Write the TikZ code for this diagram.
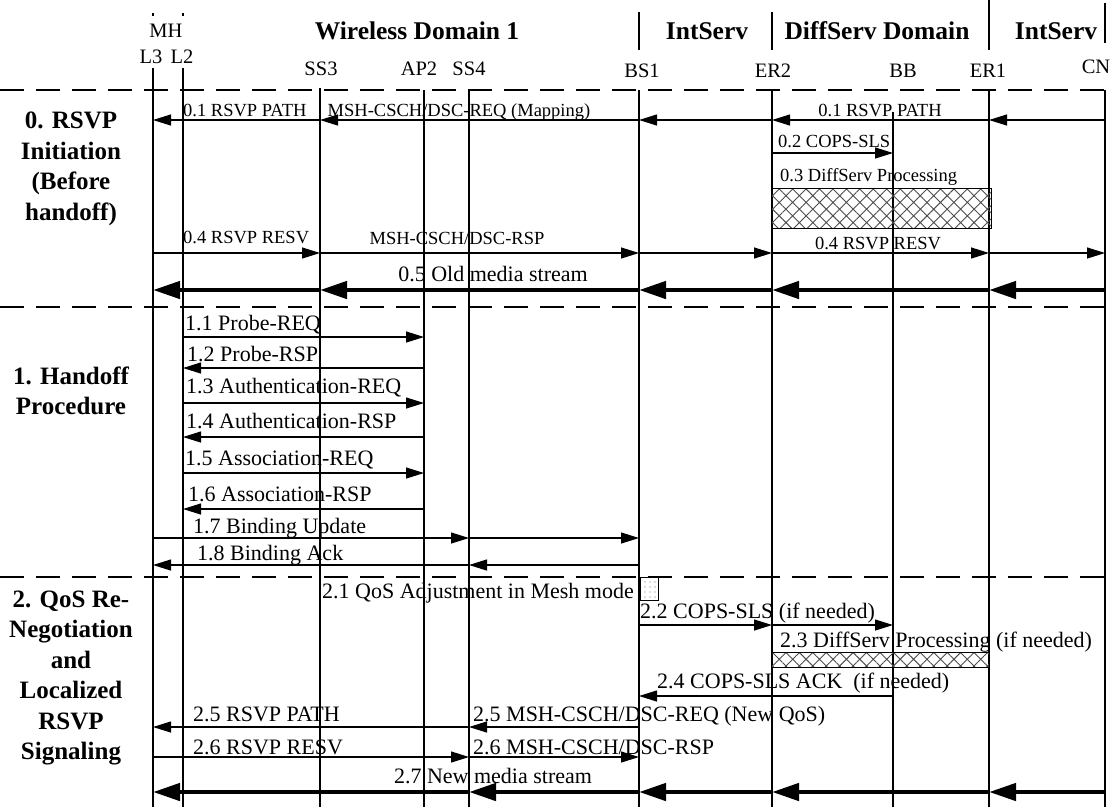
\documentclass[tikz,border=0pt]{standalone}
\usepackage{fontspec}
\setmainfont{Liberation Serif}
\usetikzlibrary{arrows.meta,patterns.meta}
\newcommand\mg[4][msg]{\draw[#1] (#2 |- 0,#4) -- (#3 |- 0,#4);}
\begin{document}
\begin{tikzpicture}[x=1pt,y=-1pt,
  life/.style={line width=1.2pt},
  msg/.style={line width=1.2pt,-{Triangle[length=18pt,width=11pt]}},
  big/.style={line width=4.5pt,-{Triangle[length=27pt,width=17pt]}},
  sepline/.style={line width=2.6pt,dash pattern=on 24pt off 12pt},
  hatchbox/.style={pattern={Hatch[angle=45,distance=9.5pt,line width=0.9pt]},pattern color=black!70},
  lblA/.style={font=\fontsize{18.5}{20}\selectfont,inner sep=0pt},
  lblB/.style={font=\fontsize{22}{24}\selectfont,inner sep=0pt},
  hdr/.style={font=\bfseries\fontsize{25.5}{28}\selectfont,inner sep=0pt,anchor=base},
  nm/.style={font=\fontsize{20.5}{22}\selectfont,inner sep=0pt,anchor=base},
  sec/.style={font=\bfseries\fontsize{25}{30.5}\selectfont,align=center,inner sep=0pt}]
\useasboundingbox (0,0) rectangle (1115,807);
% lifeline x positions
\coordinate (L3) at (153,0);
\coordinate (L2) at (183,0);
\coordinate (SS3) at (320,0);
\coordinate (AP2) at (424,0);
\coordinate (SS4) at (469,0);
\coordinate (BS1) at (639,0);
\coordinate (ER2) at (772,0);
\coordinate (BB) at (893,0);
\coordinate (ER1) at (989,0);
\coordinate (CN) at (1105,0);
% lifelines
\foreach \n/\t in {L3/68,L2/68,SS3/88,AP2/90,SS4/90,BS1/90,ER2/90,BB/112,ER1/90,CN/90}
  \draw[life] (\n |- 0,\t) -- (\n |- 0,807);
\draw[life] (L3 |- 0,13) -- (L3 |- 0,16);
\draw[life] (L2 |- 0,13) -- (L2 |- 0,16);
% header separators
\draw[life] (BS1 |- 0,12) -- (BS1 |- 0,50);
\draw[life] (ER2 |- 0,12) -- (ER2 |- 0,50);
\draw[life] (ER1 |- 0,0) -- (ER1 |- 0,50);
\draw[life] (CN |- 0,3) -- (CN |- 0,43);
% section separators
\draw[sepline] (0,90) -- (1115,90);
\draw[sepline] (0,307) -- (1115,307);
\draw[sepline] (0,577) -- (1115,577);
% headers
\node[hdr] (hW) at (417,39) {Wireless Domain 1};
\node[hdr] (hI1) at (707,39) {IntServ};
\node[hdr] (hD) at (877,39) {DiffServ Domain};
\node[hdr] (hI2) at (1056,39) {IntServ};
% entity names
\node[nm] (nMH) at (166,37) {MH};
\node[nm] (nL3) at (151,63) {L3};
\node[nm] (nL2) at (182,63) {L2};
\node[nm] (nSS3) at (321,75) {SS3};
\node[nm] (nAP2) at (419,75) {AP2};
\node[nm] (nSS4) at (469,75) {SS4};
\node[nm] (nBS1) at (642,77) {BS1};
\node[nm] (nER2) at (773,77) {ER2};
\node[nm] (nBB) at (903,77) {BB};
\node[nm] (nER1) at (988,77) {ER1};
\node[nm] (nCN) at (1096,73) {CN};
% section labels
\node[sec] (s0) at (71,169) {0. RSVP\\Initiation\\(Before\\handoff)};
\node[sec] (s1) at (71,391) {1. Handoff\\Procedure};
\node[sec] (s2) at (71,678) {2. QoS Re-\\Negotiation\\and\\Localized\\RSVP\\Signaling};
% boxes
\fill[hatchbox] (771,188) rectangle (991,228);
\draw[line width=1pt] (771,188) rectangle (991,228);
\fill[hatchbox] (771,652) rectangle (989,667);
\draw[line width=1pt] (771,652) rectangle (989,667);
\fill[pattern={Dots[distance=5pt,radius=0.7pt]},pattern color=black!60] (640,577) rectangle (658,600);
\draw[line width=1pt] (640,577) rectangle (658,600);
% phase 0
\mg{CN}{ER1}{120}\mg{ER1}{ER2}{120}\mg{ER2}{BS1}{120}\mg{BS1}{SS3}{120}\mg{SS3}{L3}{120}
\mg{ER2}{BB}{153}
\mg{L3}{SS3}{253}\mg{SS3}{BS1}{253}\mg{BS1}{ER2}{253}\mg{ER2}{ER1}{253}\mg{ER1}{CN}{253}
\mg[big]{CN}{ER1}{290}\mg[big]{ER1}{ER2}{290}\mg[big]{ER2}{BS1}{290}\mg[big]{BS1}{SS3}{290}\mg[big]{SS3}{L3}{290}
\node[lblA,anchor=base west] (t01a) at (183,116) {0.1 RSVP PATH};
\node[lblA,anchor=base] (t01b) at (459,116) {MSH-CSCH/DSC-REQ (Mapping)};
\node[lblA,anchor=base] (t01c) at (880,116) {0.1 RSVP PATH};
\node[lblA,anchor=base west] (t02) at (778,147) {0.2 COPS-SLS};
\node[lblA,anchor=base west] (t03) at (780,181) {0.3 DiffServ Processing};
\node[lblA,anchor=base west] (t04a) at (183,243) {0.4 RSVP RESV};
\node[lblA,anchor=base] (t04b) at (457,244) {MSH-CSCH/DSC-RSP};
\node[lblA,anchor=base] (t04c) at (878,249) {0.4 RSVP RESV};
\node[lblB,anchor=base] (t05) at (493,281) {0.5 Old media stream};
% phase 1
\mg{L2}{AP2}{337}\mg{AP2}{L2}{368}\mg{L2}{AP2}{403}\mg{AP2}{L2}{437}\mg{L2}{AP2}{473}\mg{AP2}{L2}{509}
\mg{L3}{SS4}{538}\mg{SS4}{BS1}{538}
\mg{BS1}{SS4}{565}\mg{SS4}{L3}{565}
\node[lblB,anchor=base west] (t11) at (185,330) {1.1 Probe-REQ};
\node[lblB,anchor=base west] (t12) at (187,361) {1.2 Probe-RSP};
\node[lblB,anchor=base west] (t13) at (186,393) {1.3 Authentication-REQ};
\node[lblB,anchor=base west] (t14) at (186,428) {1.4 Authentication-RSP};
\node[lblB,anchor=base west] (t15) at (185,465) {1.5 Association-REQ};
\node[lblB,anchor=base west] (t16) at (188,501) {1.6 Association-RSP};
\node[lblB,anchor=base west] (t17) at (193,533) {1.7 Binding Update};
\node[lblB,anchor=base west] (t18) at (197,560) {1.8 Binding Ack};
% phase 2
\mg{BS1}{ER2}{625}\mg{ER2}{BB}{625}
\mg{BB}{BS1}{696}
\mg{BS1}{SS4}{727}\mg{SS4}{L3}{727}
\mg{L3}{SS4}{757}\mg{SS4}{BS1}{757}
\mg[big]{CN}{ER1}{792}\mg[big]{ER1}{ER2}{792}\mg[big]{ER2}{BS1}{792}\mg[big]{BS1}{SS4}{792}\mg[big]{SS4}{L3}{792}
\node[lblB,anchor=base west] (t21) at (322,598) {2.1 QoS Adjustment in Mesh mode};
\node[lblB,anchor=base west] (t22) at (640,618) {2.2 COPS-SLS (if needed)};
\node[lblB,anchor=base west] (t23) at (780,647) {2.3 DiffServ Processing (if needed)};
\node[lblB,anchor=base west] (t24) at (657,688) {2.4 COPS-SLS ACK\ \ (if needed)};
\node[lblB,anchor=base west] (t25a) at (193,721) {2.5 RSVP PATH};
\node[lblB,anchor=base west] (t25b) at (473,721) {2.5 MSH-CSCH/DSC-REQ (New QoS)};
\node[lblB,anchor=base west] (t26a) at (193,754) {2.6 RSVP RESV};
\node[lblB,anchor=base west] (t26b) at (473,754) {2.6 MSH-CSCH/DSC-RSP};
\node[lblB,anchor=base] (t27) at (493,783) {2.7 New media stream};
\end{tikzpicture}
\end{document}
